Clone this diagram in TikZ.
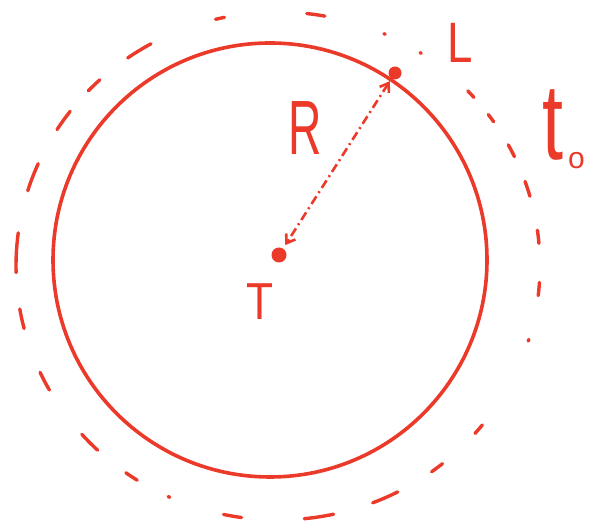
\documentclass[tikz,border=0pt]{standalone}
\usepackage{fontspec}
\setmainfont{Liberation Sans}
\usetikzlibrary{arrows.meta,calc}
\definecolor{pen}{RGB}{236,58,42}

\begin{document}
\begin{tikzpicture}[x=1pt, y=1pt,
			dot/.style={circle, fill=pen, inner sep=0pt},
			orbit/.style={draw=pen, line width=3.6pt},
			ring/.style={draw=pen, line width=3.4pt, line cap=round},
			radiusline/.style={draw=pen, line width=2.6pt, dash pattern=on 9pt off 4pt on 2pt off 4pt,
				{Straight Barb[length=8pt,width=11pt]}-{Straight Barb[length=8pt,width=11pt]},
				shorten <=3pt, shorten >=4pt},
			lab/.style={text=pen, inner sep=0pt, anchor=base}
			]
			
			\useasboundingbox (0,0) rectangle (612,526);
			
			% --------------------------------------------------------------------
			% circles
			% --------------------------------------------------------------------
			\coordinate (O) at (270,266);
			\coordinate (Oring) at (278,260);
			
			\draw[orbit] (O) circle[radius=217];
			
			% outer ring, drawn stroke by stroke (angle/width)
			\foreach \a/\w in {102.8/2, 81.7/4, 66/0.3, 57/0.3, 42.6/2, 35.6/2, 27/3, 17.7/3.5,
				6.6/3, -5.2/3, -17/0.4, -40/2.5, -52.6/3, -65.8/6, -81/6.5, -100/4, -114.6/0.4,
				-124/3, -136/5, -153/4.5, -168/4.5, 177/9, 159.5/6.5, 145/5, 134.6/3.5, 122/6}
			\draw[ring] (Oring) ++({\a-\w/2}:262 and 254)
				arc[start angle={\a-\w/2}, delta angle=\w, x radius=262, y radius=254];
			
			% --------------------------------------------------------------------
			% points and radius
			% --------------------------------------------------------------------
			\node[dot, minimum size=13pt] (L) at (395,453) {};
			\node[dot, minimum size=15pt] (T) at (279,271) {};
			
			\draw[radiusline] (L) -- (T);
			
			% labels
			\node[lab, font=\fontsize{77}{77}\selectfont] (Rlab) at (305,371) {\scalebox{0.6}[1]{R}};
			\node[lab, font=\fontsize{57}{57}\selectfont] (Llab) at (460,463) {\scalebox{0.8}[1]{L}};
			\node[lab, font=\fontsize{52}{52}\selectfont] (Tlab) at (260,206) {\scalebox{0.85}[1]{T}};
			\node[lab, anchor=base west, font=\fontsize{108}{108}\selectfont] (tlab) at (542,366)
				{\scalebox{0.7}[1]{t}\hspace{5pt}\raisebox{-9pt}{\fontsize{30}{30}\selectfont o}};
			
		\end{tikzpicture}
\end{document}
